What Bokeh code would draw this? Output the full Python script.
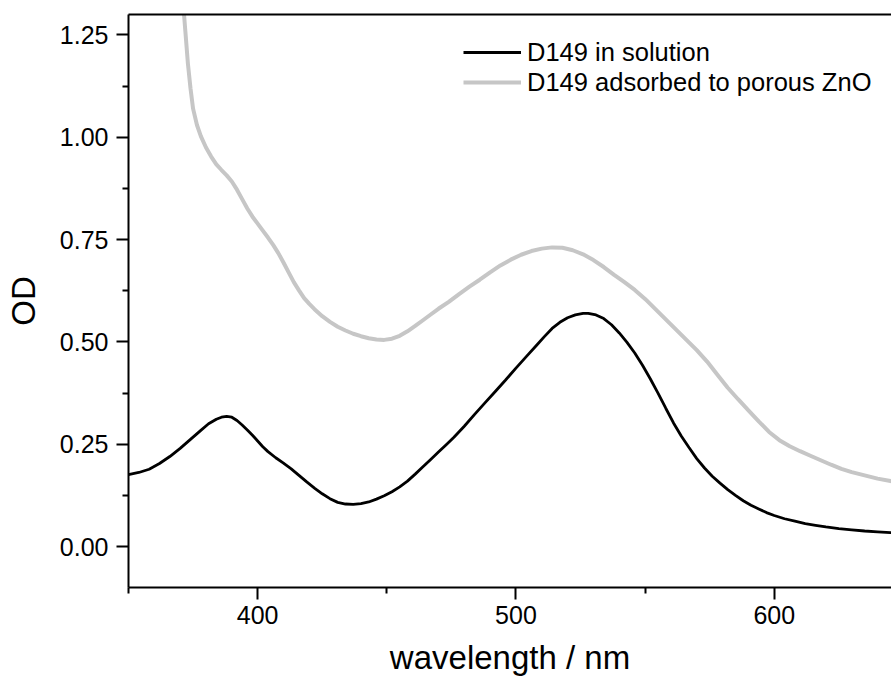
from bokeh.plotting import figure
from bokeh.models import FixedTicker, PrintfTickFormatter, LinearAxis, Range1d
from bokeh.embed import file_html
from bokeh.resources import INLINE

# ---- data ----
wl_solution = [350, 354, 358, 362, 366, 370, 374, 378, 381, 384, 386, 388, 390, 392, 394,
               396, 398, 400, 402, 404, 407, 410, 413, 416, 419, 422, 425, 428, 431, 434,
               437, 440, 443, 446, 449, 452, 455, 458, 461, 464, 467, 470, 473, 476, 480,
               484, 488, 492, 496, 500, 504, 508, 511, 514, 517, 520, 523, 526, 528, 531,
               534, 537, 540, 543, 546, 549, 552, 555, 558, 561, 564, 567, 570, 573, 576,
               579, 582, 585, 588, 591, 594, 597, 600, 604, 608, 612, 616, 620, 625, 630,
               635, 640, 645, 650]
od_solution = [0.176, 0.181, 0.189, 0.203, 0.220, 0.240, 0.262, 0.284, 0.300, 0.311, 0.316,
               0.318, 0.316, 0.308, 0.297, 0.285, 0.272, 0.258, 0.244, 0.232, 0.217, 0.204,
               0.190, 0.174, 0.158, 0.143, 0.129, 0.117, 0.108, 0.104, 0.103, 0.105, 0.109,
               0.116, 0.124, 0.134, 0.146, 0.160, 0.177, 0.195, 0.213, 0.231, 0.249, 0.267,
               0.294, 0.323, 0.351, 0.379, 0.407, 0.436, 0.464, 0.492, 0.513, 0.533, 0.548,
               0.559, 0.566, 0.570, 0.570, 0.566, 0.557, 0.542, 0.522, 0.499, 0.473, 0.443,
               0.410, 0.375, 0.338, 0.302, 0.270, 0.242, 0.215, 0.192, 0.172, 0.155, 0.139,
               0.125, 0.112, 0.101, 0.092, 0.083, 0.076, 0.068, 0.062, 0.056, 0.052, 0.048,
               0.044, 0.041, 0.038, 0.036, 0.034, 0.033]

wl_zno = [370, 371, 372, 373, 374, 375, 376.5, 378, 380, 382, 384, 386, 388, 390, 392, 394,
          396, 398, 400, 402, 404, 406, 408, 410, 412, 414, 416, 418, 420, 422, 425, 428,
          431, 434, 437, 440, 443, 446, 449, 452, 455, 458, 461, 464, 467, 470, 474, 478,
          482, 486, 490, 494, 498, 502, 506, 510, 514, 518, 522, 526, 530, 534, 538, 542,
          546, 550, 554, 558, 562, 566, 570, 574, 578, 582, 586, 590, 594, 598, 602, 606,
          610, 614, 618, 622, 626, 630, 635, 640, 645, 650]
od_zno = [1.42, 1.34, 1.26, 1.18, 1.12, 1.07, 1.03, 1.003, 0.975, 0.953, 0.934, 0.920,
          0.907, 0.892, 0.872, 0.849, 0.826, 0.806, 0.789, 0.772, 0.755, 0.737, 0.717,
          0.694, 0.670, 0.646, 0.626, 0.607, 0.593, 0.580, 0.563, 0.549, 0.537, 0.528,
          0.520, 0.514, 0.509, 0.506, 0.505, 0.508, 0.515, 0.526, 0.539, 0.553, 0.567,
          0.581, 0.598, 0.617, 0.635, 0.652, 0.670, 0.687, 0.701, 0.713, 0.722, 0.728,
          0.731, 0.730, 0.724, 0.714, 0.700, 0.683, 0.664, 0.646, 0.627, 0.605, 0.580,
          0.555, 0.530, 0.505, 0.480, 0.452, 0.420, 0.388, 0.360, 0.333, 0.306, 0.280,
          0.260, 0.245, 0.233, 0.222, 0.211, 0.200, 0.190, 0.182, 0.174, 0.166, 0.160, 0.156]

x_ticks = [400, 500, 600]
x_minor = [350, 450, 550, 650]
y_ticks = [0.0, 0.25, 0.5, 0.75, 1.0, 1.25]
y_minor = [0.125, 0.375, 0.625, 0.875, 1.125]

FONT = "Liberation Sans"

p = figure(width=891, height=682, output_backend="svg", toolbar_location=None,
           x_range=Range1d(350, 645.4), y_range=Range1d(-0.1, 1.3),
           min_border_left=128, min_border_right=0, min_border_top=14, min_border_bottom=95)
p.outline_line_color = None
p.grid.visible = False
p.background_fill_color = "white"
p.border_fill_color = "white"

p.line(wl_zno, od_zno, line_color="#c6c6c6", line_width=4,
       legend_label="D149 adsorbed to porous ZnO")
p.line(wl_solution, od_solution, line_color="black", line_width=2.8,
       legend_label="D149 in solution")

for ax in (p.xaxis[0], p.yaxis[0]):
    ax.axis_line_width = 2
    ax.axis_line_color = "black"
    ax.major_tick_line_width = 2
    ax.minor_tick_line_width = 2
    ax.major_tick_in = 0
    ax.major_tick_out = 12
    ax.minor_tick_in = 0
    ax.minor_tick_out = 6
    ax.major_label_text_font = FONT
    ax.major_label_text_font_size = "25px"
    ax.major_label_text_color = "black"
    ax.axis_label_text_font = FONT
    ax.axis_label_text_font_size = "33px"
    ax.axis_label_text_font_style = "normal"
    ax.axis_label_text_color = "black"

p.xaxis[0].ticker = FixedTicker(ticks=x_ticks, minor_ticks=x_minor)
p.xaxis[0].major_label_standoff = 6
p.xaxis[0].axis_label = "wavelength / nm"
p.xaxis[0].axis_label_standoff = 12
p.yaxis[0].ticker = FixedTicker(ticks=y_ticks, minor_ticks=y_minor)
p.yaxis[0].formatter = PrintfTickFormatter(format="%.2f")
p.yaxis[0].major_label_standoff = 8
p.yaxis[0].axis_label = "OD"
p.yaxis[0].axis_label_standoff = 15

# top frame line
top = LinearAxis(ticker=FixedTicker(ticks=[]), major_tick_out=0, major_tick_in=0,
                 minor_tick_out=0, minor_tick_in=0, major_label_standoff=0,
                 axis_line_width=2, axis_line_color="black")
p.add_layout(top, "above")

lg = p.legend[0]
lg.items = list(reversed(lg.items))
lg.location = (335, 490)
lg.padding = 0
lg.margin = 0
lg.spacing = 0
lg.glyph_width = 58
lg.glyph_height = 30
lg.label_height = 30
lg.label_standoff = 6
lg.label_text_font = FONT
lg.label_text_font_size = "25.5px"
lg.label_text_color = "black"
lg.border_line_color = None
lg.background_fill_alpha = 0

open("out.html", "w").write(file_html(p, INLINE))
